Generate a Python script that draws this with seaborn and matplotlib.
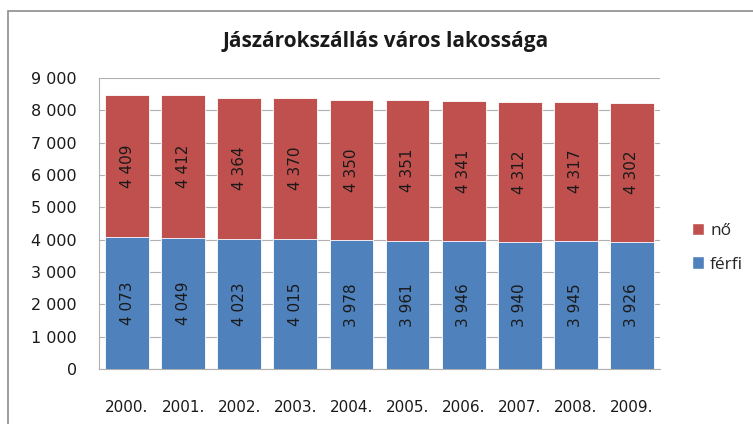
import matplotlib
matplotlib.use("Agg")
import matplotlib.pyplot as plt
import seaborn as sns
import pandas as pd
from matplotlib.patches import Rectangle, Patch

years = ["2000.", "2001.", "2002.", "2003.", "2004.", "2005.", "2006.", "2007.", "2008.", "2009."]
ferfi = [4073, 4049, 4023, 4015, 3978, 3961, 3946, 3940, 3945, 3926]
no = [4409, 4412, 4364, 4370, 4350, 4351, 4341, 4312, 4317, 4302]
yticks = [0, 1000, 2000, 3000, 4000, 5000, 6000, 7000, 8000, 9000]

BLUE = "#4F81BD"
RED = "#C0504D"
GRID = "#B0B0B0"
TXT = "#1a1a1a"

sns.set_theme(style="white")
plt.rcParams["font.family"] = ["DejaVu Sans"]

df = pd.DataFrame({"year": years, "ferfi": ferfi, "no": no})
df["total"] = df["ferfi"] + df["no"]

fig = plt.figure(figsize=(7.53, 4.24), dpi=100)
ax = fig.add_axes([99 / 753, 1 - 369 / 424, (660 - 99) / 753, (369 - 78) / 424])

sns.barplot(data=df, x="year", y="total", color=RED, saturation=1, width=0.78,
            ax=ax, edgecolor="white", linewidth=0.6, zorder=2)
sns.barplot(data=df, x="year", y="ferfi", color=BLUE, saturation=1, width=0.78,
            ax=ax, edgecolor="white", linewidth=0.6, zorder=3)

def fmt(v):
    return f"{v:,}".replace(",", " ")

for i, (f, n) in enumerate(zip(ferfi, no)):
    ax.text(i, f / 2, fmt(f), rotation=90, ha="center", va="center",
            fontsize=11, color=TXT, zorder=4)
    ax.text(i, f + n / 2, fmt(n), rotation=90, ha="center", va="center",
            fontsize=11, color=TXT, zorder=4)

ax.set_ylim(0, 9000)
ax.set_xlim(-0.5, len(years) - 0.5)
ax.set_yticks(yticks)
ax.set_yticklabels([fmt(v) for v in yticks])
ax.yaxis.grid(True, color=GRID, linewidth=0.8, zorder=0)
ax.set_axisbelow(True)
ax.set_xlabel("")
ax.set_ylabel("")
for s in ["top", "right"]:
    ax.spines[s].set_visible(False)
for s in ["left", "bottom"]:
    ax.spines[s].set_color(GRID)
    ax.spines[s].set_linewidth(0.8)
ax.tick_params(axis="y", labelsize=11.5, pad=16, length=0, colors=TXT)
ax.tick_params(axis="x", labelsize=11, pad=22, length=0, colors=TXT)

fig.text(386 / 753, 1 - 42 / 424, "Jászárokszállás város lakossága", ha="center", va="center",
         fontsize=15, fontweight="bold", color=TXT, family=["Open Sans", "DejaVu Sans"])

handles = [Patch(facecolor=RED, label="nő"), Patch(facecolor=BLUE, label="férfi")]
fig.legend(handles=handles, loc="upper left", bbox_to_anchor=(685 / 753, 1 - 216 / 424),
           frameon=False, handlelength=0.7, handleheight=0.7,
           handletextpad=0.35, labelspacing=1.0, borderaxespad=0,
           prop={"family": ["Open Sans", "DejaVu Sans"], "size": 12.5})

fig.patches.append(Rectangle((8 / 753, -0.1), 2, 1 - 11 / 424 + 0.1, transform=fig.transFigure,
                             fill=False, edgecolor="#8c8c8c", linewidth=1.2, figure=fig))

fig.savefig("out.png", dpi=100)
